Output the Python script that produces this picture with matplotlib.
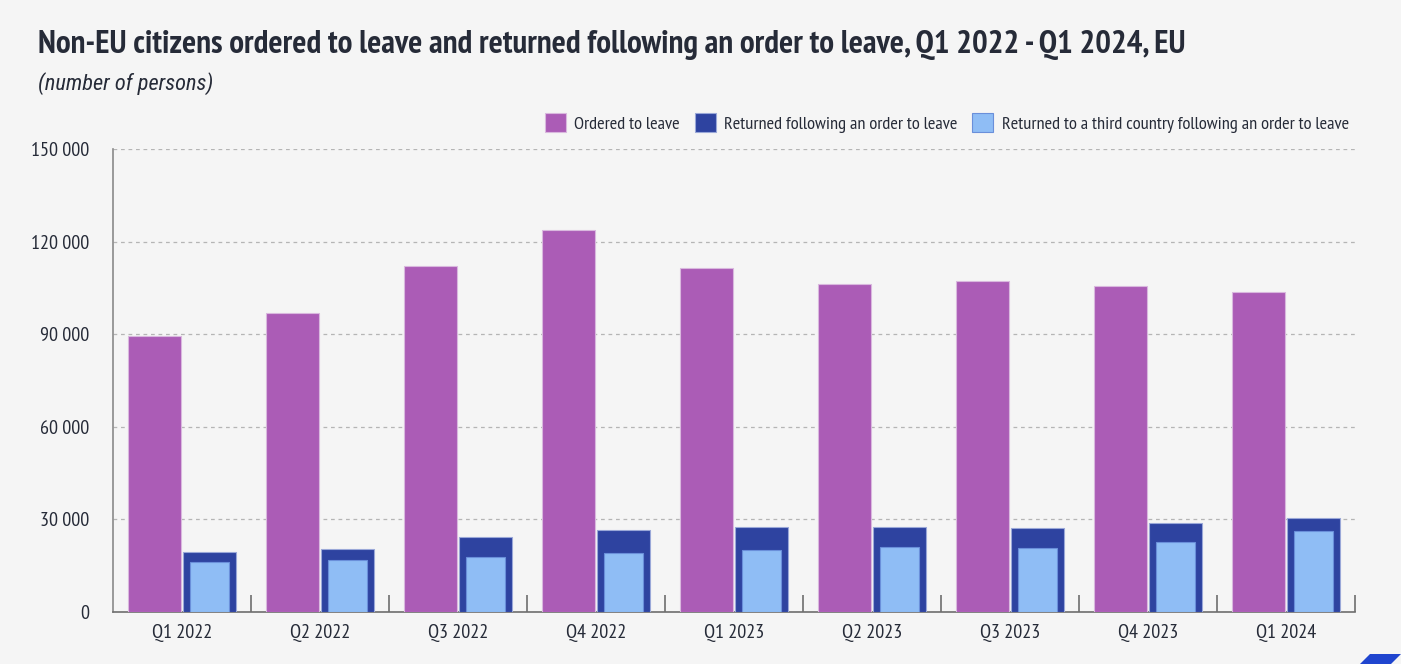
import matplotlib
matplotlib.use("Agg")
import matplotlib.pyplot as plt
from matplotlib import font_manager as fm
from matplotlib.patches import Rectangle, Polygon
from matplotlib.ticker import FuncFormatter, FixedLocator
import numpy as np

# ---- data ----
categories = ["Q1 2022", "Q2 2022", "Q3 2022", "Q4 2022", "Q1 2023",
              "Q2 2023", "Q3 2023", "Q4 2023", "Q1 2024"]
ordered = [89500, 96900, 112000, 123800, 111500, 106300, 107300, 105600, 103600]
returned = [19300, 20500, 24300, 26600, 27400, 27400, 27200, 28900, 30500]
third_country = [16200, 16700, 17900, 19200, 20100, 21100, 20600, 22600, 26300]
series_names = ["Ordered to leave", "Returned following an order to leave",
                "Returned to a third country following an order to leave"]
yticks = [0, 30000, 60000, 90000, 120000, 150000]

# ---- fonts ----
available = {f.name for f in fm.fontManager.ttflist}
def pick(cands):
    for c in cands:
        if c in available:
            return c
    return "DejaVu Sans"
main_font = pick(["PT Sans Narrow", "Roboto Condensed", "Fira Sans Condensed", "Liberation Sans Narrow", "Liberation Sans"])
ital_font = pick(["Roboto Condensed", "Fira Sans Condensed", "Liberation Sans"])
plt.rcParams['font.family'] = [main_font, 'DejaVu Sans']

c_purple = "#AB5CB6"
c_dark = "#2E43A0"
c_light = "#8FBDF5"
bg = "#F5F5F5"
txt = "#262B38"

W, H = 1405, 664
fig = plt.figure(figsize=(W / 100, H / 100), dpi=100)
fig.patch.set_facecolor("white")
fig.patches.append(Rectangle((0, 0), 1401 / W, 1, transform=fig.transFigure,
                             facecolor=bg, edgecolor="none", zorder=-10))

ax = fig.add_axes([113 / W, 1 - 612 / H, (1355 - 113) / W, (612 - 149) / H])
ax.set_facecolor(bg)

x = np.arange(len(categories))
ax.bar(x - 0.2, ordered, width=0.38, color=c_purple, edgecolor="#D9B8DE",
       linewidth=0.8, zorder=3, label=series_names[0])
ax.bar(x + 0.2, returned, width=0.385, color=c_dark, edgecolor="#9AA8D8",
       linewidth=0.8, zorder=3, label=series_names[1])
ax.bar(x + 0.2, third_country, width=0.28, color=c_light, edgecolor="#6A8FDA",
       linewidth=0.8, zorder=4, label=series_names[2])

ax.set_xlim(-0.5, len(categories) - 0.5)
ax.set_ylim(0, 150000)
ax.yaxis.set_major_locator(FixedLocator(yticks))
ax.yaxis.set_major_formatter(FuncFormatter(lambda v, p: f"{int(v):,}".replace(",", " ")))
ax.set_xticks(x)
ax.set_xticklabels(categories)
ax.set_xticks(np.arange(len(categories)) + 0.5, minor=True)

ax.grid(axis="y", color="#B5B5B5", linestyle=(0, (3, 3)), linewidth=0.9, zorder=0)
for s in ["top", "right"]:
    ax.spines[s].set_visible(False)
ax.spines["left"].set_color("#8A8A8A")
ax.spines["bottom"].set_color("#6E6E6E")
ax.spines["left"].set_linewidth(1.2)
ax.spines["bottom"].set_linewidth(1.2)

ax.tick_params(axis="y", length=0, pad=17, labelsize=14.5, labelcolor=txt)
ax.tick_params(axis="x", which="major", length=0, pad=9, labelsize=14.5, labelcolor=txt)
ax.tick_params(axis="x", which="minor", direction="in", length=12, width=1.2, color="#6E6E6E")

title = fig.text(38 / W, 1 - 45 / H,
                 "Non-EU citizens ordered to leave and returned following an order to leave, Q1 2022 - Q1 2024, EU",
                 fontsize=22, fontweight="bold", color=txt, va="center", ha="left")
sub = fig.text(38 / W, 1 - 84 / H, "(number of persons)", fontsize=14, fontstyle="italic",
               family=[ital_font, 'DejaVu Sans'], color=txt, va="center", ha="left")

handles, labels = ax.get_legend_handles_labels()
def make_legend(fs):
    return fig.legend(handles, labels, loc="center right", bbox_to_anchor=(1356 / W, 1 - 123 / H),
                      ncol=3, frameon=False, fontsize=fs, handlelength=1.15, handleheight=1.15,
                      handletextpad=0.45, columnspacing=0.8, labelcolor=txt, borderaxespad=0)

leg = make_legend(14)

# fit widths of title, subtitle and legend to the reference
renderer = fig.canvas.get_renderer()
def fit(t, target):
    for _ in range(3):
        w = t.get_window_extent(renderer).width
        t.set_fontsize(t.get_fontsize() * target / w)
fit(title, 1185 - 38)
fit(sub, 213 - 38)
for _ in range(3):
    w = leg.get_window_extent(renderer).width
    fs = leg.get_texts()[0].get_fontsize() * (1355 - 537) / w
    leg.remove()
    leg = make_legend(fs)

fig.patches.append(Polygon([(1360 / W, 0), (1370 / W, 10 / H), (1401 / W, 10 / H), (1391 / W, 0)],
                           closed=True, transform=fig.transFigure, facecolor="#1F45CF",
                           edgecolor="none", zorder=5))

fig.savefig("out.png", dpi=100, facecolor=fig.get_facecolor())
